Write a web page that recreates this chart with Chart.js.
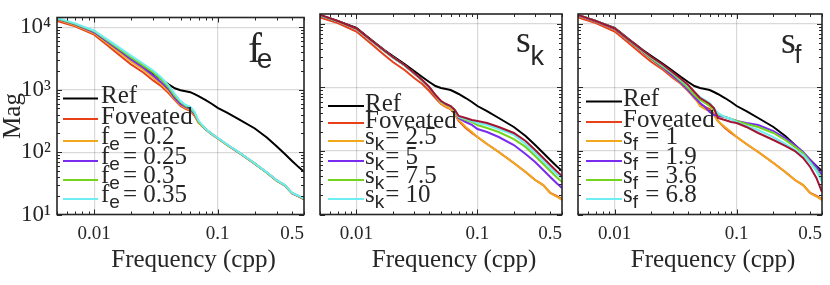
<!DOCTYPE html>
<html>
<head>
<meta charset="utf-8">
<script src="https://cdn.jsdelivr.net/npm/chart.js@4.4.1/dist/chart.umd.min.js"></script>
<style>
  html, body { margin: 0; padding: 0; background: #fff; }
  #wrap { position: relative; width: 830px; height: 285px; overflow: hidden; }
  #wrap canvas { position: absolute; top: 0; }
</style>
</head>
<body>
<div id="wrap">
  <canvas id="panelFe" width="312" height="285" style="left:0px"></canvas>
  <canvas id="panelSk" width="258" height="285" style="left:312px"></canvas>
  <canvas id="panelSf" width="260" height="285" style="left:570px"></canvas>
</div>
<script>
// frequency samples (cpp)
const freq = [0.005, 0.007, 0.01, 0.013, 0.017, 0.02, 0.025, 0.03, 0.035, 0.04, 0.045, 0.05, 0.055, 0.06, 0.065, 0.07, 0.08, 0.09, 0.1, 0.12, 0.15, 0.2, 0.25, 0.3, 0.35, 0.4, 0.45, 0.5];

// shared curves
const refMag = [13860, 11150, 8650, 5800, 3890, 3130, 2340, 1820, 1460, 1220, 1055, 982, 947, 913, 849, 790, 683, 591, 511, 426, 331, 239, 172, 124, 93, 72, 58, 48.4];
const foveatedMag = [12660, 10370, 7620, 5020, 3250, 2520, 1885, 1410, 1134, 881, 683, 550, 493, 458, 382, 297, 230, 192, 166, 129, 96.4, 64.7, 46.7, 34.9, 29.1, 21.8, 19.6, 17.5];

// panel 1: f_e
const feValues = ['0.2', '0.25', '0.3', '0.35'];
const fe02 = [13370, 10750, 8040, 5400, 3620, 2810, 2100, 1570, 1220, 947, 709, 570, 511, 475, 397, 297, 231, 193, 167, 129.5, 97, 65, 46.9, 35.1, 29.2, 21.9, 19.7, 17.6];
const fe025 = [13610, 11150, 8340, 5700, 3890, 3020, 2260, 1690, 1310, 1017, 734, 591, 530, 493, 411, 308, 232, 194, 168, 130, 97.5, 65.3, 47.1, 35.2, 29.3, 22, 19.8, 17.7];
const fe03 = [13860, 11350, 8650, 6020, 4110, 3250, 2430, 1885, 1462, 1094, 790, 635, 550, 511, 426, 308, 232, 194, 168, 130, 97.6, 65.4, 47.2, 35.3, 29.4, 22.1, 19.9, 17.8];
const fe035 = [14110, 11560, 8810, 6240, 4340, 3490, 2610, 2030, 1572, 1176, 849, 659, 570, 530, 442, 319, 234, 195, 169, 131, 98, 65.6, 47.4, 35.5, 29.6, 22.2, 20, 17.9];

// panel 2: s_k
const skValues = ['2.5', '5', '7.5', '10'];
const sk25 = [13650, 10980, 8370, 5610, 3770, 2975, 2225, 1665, 1290, 1000, 750, 560, 500, 465, 390, 308, 239, 199, 166, 129, 96.4, 64.7, 46.7, 34.9, 29.1, 21.8, 19.2, 16.9];
const sk5 = [13650, 10980, 8370, 5610, 3770, 2975, 2225, 1665, 1290, 1000, 750, 604, 542, 503, 435, 331, 286, 257, 222, 199, 166, 124, 89.7, 67.1, 50.2, 38.9, 31.3, 26.1];
const sk75 = [13650, 10980, 8370, 5610, 3770, 2975, 2225, 1665, 1290, 1000, 750, 604, 542, 503, 435, 343, 308, 286, 257, 230, 199, 154, 116, 83.4, 62.4, 48.4, 38.9, 32.5];
const sk10 = [13650, 10980, 8370, 5610, 3770, 2975, 2225, 1665, 1290, 1000, 750, 604, 542, 503, 435, 343, 319, 297, 276, 257, 222, 179, 129, 93, 69.6, 54, 43.4, 37.6];
const skExtra = [13860, 11150, 8495, 5698, 3824, 3020, 2260, 1691, 1311, 1017, 762, 613, 550, 511, 442, 356, 331, 308, 297, 276, 239, 192, 144, 104, 77.6, 60.2, 48.4, 40.4];

// panel 3: s_f
const sfValues = ['1', '1.9', '3.6', '6.8'];
const sf1 = [13400, 10800, 8200, 5400, 3560, 2760, 1990, 1490, 1155, 897, 696, 511, 458, 426, 369, 297, 239, 199, 166, 129, 96.4, 64.7, 46.7, 34.9, 29.1, 21.8, 19.2, 16.9];
const sf19 = [13610, 10950, 8341, 5495, 3621, 2809, 2027, 1516, 1176, 913, 709, 570, 493, 411, 369, 356, 343, 319, 297, 276, 257, 206, 160, 124, 96.4, 72.1, 56, 41.9];
const sf36 = [13860, 11150, 8495, 5596, 3688, 2860, 2102, 1630, 1242, 982, 762, 635, 570, 511, 442, 382, 343, 319, 297, 266, 239, 192, 149, 116, 93, 67.1, 50.2, 34.9];
const sf68 = [13860, 11150, 8495, 5698, 3755, 2966, 2179, 1691, 1311, 1055, 849, 709, 635, 570, 475, 397, 343, 319, 286, 247, 214, 166, 129, 104, 86.5, 64.7, 48.4, 32.5];
const sfExtra = [13860, 11150, 8495, 5698, 3824, 3020, 2260, 1722, 1360, 1094, 849, 683, 613, 550, 475, 331, 308, 286, 276, 239, 192, 149, 120, 100, 77.6, 56, 37.6, 22.6];

// axes
const xTicks = [0.005, 0.006, 0.007, 0.008, 0.009, 0.01, 0.02, 0.03, 0.04, 0.05, 0.06, 0.07, 0.08, 0.09, 0.1, 0.2, 0.3, 0.4, 0.5];
const xMajor = [0.01, 0.1];
const xLabelValues = [0.01, 0.1, 0.5];
const xLabels = ['0.01', '0.1', '0.5'];
const yTicks = [10, 20, 30, 40, 50, 60, 70, 80, 90, 100, 200, 300, 400, 500, 600, 700, 800, 900, 1000, 2000, 3000, 4000, 5000, 6000, 7000, 8000, 9000, 10000];
const yMajor = [10, 100, 1000, 10000];
const yLabels = ['10\u00b9', '10\u00b2', '10\u00b3', '10\u2074'];

const colors = {
    ref: '#000000',
    foveated: '#e8411a',
    orange: '#f2a81d',
    purple: '#7a2bf0',
    green: '#72d41c',
    cyan: '#6eeef2',
    darkred: '#a2142f'
};

const SERIF = '"Liberation Serif", "DejaVu Serif", serif';
const SANS = '"Liberation Sans", "DejaVu Sans", sans-serif';
const INK = '#262626';

const near = (a, b) => Math.abs(a - b) < 1e-9 * Math.max(1, Math.abs(b));
const inList = (list, v) => list.some(t => near(t, v));

function series(label, values, color) {
    return {
        label: label,
        data: freq.map((f, i) => ({x: f, y: values[i]})),
        borderColor: color,
        borderWidth: 2,
        pointRadius: 0,
        fill: false,
        tension: 0
    };
}

// inward ticks, box, legend, corner tag, x title
const decor = {
    id: 'decor',
    afterDatasetsDraw(chart, args, o) {
        const {ctx, chartArea: a, scales} = chart;
        ctx.save();
        ctx.strokeStyle = INK;
        ctx.lineWidth = 1;
        ctx.beginPath();
        xTicks.forEach(v => {
            const px = Math.round(scales.x.getPixelForValue(v)) + 0.5;
            const len = inList(xMajor, v) ? 5 : 3;
            ctx.moveTo(px, a.bottom); ctx.lineTo(px, a.bottom - len);
            ctx.moveTo(px, a.top); ctx.lineTo(px, a.top + len);
        });
        yTicks.forEach(v => {
            const py = Math.round(scales.y.getPixelForValue(v)) + 0.5;
            const len = inList(yMajor, v) ? 5 : 3;
            ctx.moveTo(a.left, py); ctx.lineTo(a.left + len, py);
            ctx.moveTo(a.right, py); ctx.lineTo(a.right - len, py);
        });
        ctx.stroke();
        ctx.lineWidth = 1.6;
        ctx.strokeRect(a.left, a.top, a.right - a.left, a.bottom - a.top);
        ctx.restore();
    },
    afterDraw(chart, args, o) {
        const {ctx, chartArea: a} = chart;
        ctx.save();
        ctx.textAlign = 'left';
        ctx.textBaseline = 'alphabetic';
        ctx.fillStyle = INK;

        // legend
        o.rows.forEach((row, i) => {
            const y = o.rowY[i];
            ctx.strokeStyle = row.color;
            ctx.lineWidth = 2;
            ctx.beginPath();
            ctx.moveTo(a.left + o.lineX[0], y);
            ctx.lineTo(a.left + o.lineX[1], y);
            ctx.stroke();
            let x = a.left + o.textX;
            const base = y + (row.sub ? 2.5 : 4.5);
            ctx.font = '25px ' + SERIF;
            ctx.fillText(row.main, x, base);
            if (row.sub) {
                x += ctx.measureText(row.main).width;
                ctx.font = '19px ' + SANS;
                ctx.fillText(row.sub, x, base + 6);
                x += ctx.measureText(row.sub).width + o.gap;
                ctx.font = '25px ' + SERIF;
                ctx.fillText(row.rest, x, base);
            }
        });

        // corner tag
        const t = o.tag;
        ctx.font = t.mainSize + 'px ' + SERIF;
        const tx = a.right - t.fromRight;
        ctx.fillText(t.main, tx, t.base);
        ctx.font = t.subSize + 'px ' + SANS;
        ctx.fillText(t.sub, tx + ctx.measureText(t.main).width + t.subGap, t.base + t.subDrop);

        // x axis title
        ctx.font = '25px ' + SERIF;
        ctx.textAlign = 'center';
        ctx.fillText('Frequency (cpp)', (a.left + a.right) / 2 + 13, 267);
        ctx.restore();
    }
};

function makePanel(id, datasets, decorOpts, showY, padLeft, padRight) {
    return new Chart(document.getElementById(id), {
        type: 'line',
        data: {datasets: datasets.map((d, i) => Object.assign(d, {order: -i}))},
        options: {
            responsive: false,
            animation: false,
            events: [],
            layout: {padding: {left: padLeft, right: padRight, top: 14, bottom: 0}},
            plugins: {
                legend: {display: false},
                tooltip: {enabled: false},
                decor: decorOpts
            },
            scales: {
                x: {
                    type: 'logarithmic',
                    min: 0.005,
                    max: 0.5,
                    afterBuildTicks: s => { s.ticks = xTicks.map(v => ({value: v})); },
                    afterFit: s => { s.height = 70.5; },
                    border: {display: false},
                    grid: {
                        drawTicks: false,
                        lineWidth: 1.2,
                        color: c => (c.tick && inList(xMajor, c.tick.value)) ? 'rgba(0,0,0,0.15)' : 'rgba(0,0,0,0)'
                    },
                    ticks: {
                        autoSkip: false,
                        maxRotation: 0,
                        align: 'inner',
                        padding: 8,
                        color: INK,
                        font: {family: SERIF, size: 19, lineHeight: 1.2},
                        callback: v => {
                            const k = xLabelValues.findIndex(t => near(t, v));
                            return k >= 0 ? xLabels[k] : '';
                        }
                    }
                },
                y: {
                    type: 'logarithmic',
                    min: 10,
                    max: 14370,
                    afterBuildTicks: s => { s.ticks = yTicks.map(v => ({value: v})); },
                    afterFit: s => { s.width = showY ? 57 : 0; },
                    border: {display: false},
                    grid: {
                        drawTicks: false,
                        lineWidth: 1.2,
                        color: c => (c.tick && inList(yMajor, c.tick.value) && c.tick.value > 10) ? 'rgba(0,0,0,0.15)' : 'rgba(0,0,0,0)'
                    },
                    title: {
                        display: showY,
                        text: 'Mag',
                        color: INK,
                        font: {family: SERIF, size: 25, lineHeight: 1.1},
                        padding: {top: 0, bottom: 0}
                    },
                    ticks: {
                        display: showY,
                        autoSkip: false,
                        padding: 6,
                        color: INK,
                        font: {family: SERIF, size: 23, lineHeight: 1.0},
                        callback: v => {
                            const k = yMajor.findIndex(t => near(t, v));
                            return k >= 0 ? yLabels[k] : '';
                        }
                    }
                }
            }
        },
        plugins: [decor]
    });
}

function legendRows(symbol, values) {
    const rows = [
        {main: 'Ref', color: colors.ref},
        {main: 'Foveated', color: colors.foveated}
    ];
    const c = [colors.orange, colors.purple, colors.green, colors.cyan];
    values.forEach((v, i) => rows.push({main: symbol[0], sub: symbol[1], rest: symbol[2] + v, color: c[i]}));
    return rows;
}

makePanel('panelFe', [
    series('Ref', refMag, colors.ref),
    series('Foveated', foveatedMag, colors.foveated),
    series('fe = 0.2', fe02, colors.orange),
    series('fe = 0.25', fe025, colors.purple),
    series('fe = 0.3', fe03, colors.green),
    series('fe = 0.35', fe035, colors.cyan)
], {
    rows: legendRows(['f', 'e', '= '], feValues),
    rowY: [98.5, 119, 141, 161, 180, 199],
    lineX: [6, 41],
    textX: 44,
    gap: 3,
    tag: {main: 'f', sub: 'e', mainSize: 42, subSize: 28, fromRight: 56, base: 62, subGap: 1, subDrop: 6}
}, true, 0, 2);

makePanel('panelSk', [
    series('Ref', refMag, colors.ref),
    series('Foveated', foveatedMag, colors.foveated),
    series('sk = 2.5', sk25, colors.orange),
    series('sk = 5', sk5, colors.purple),
    series('sk = 7.5', sk75, colors.green),
    series('sk = 10', sk10, colors.cyan),
    series('', skExtra, colors.darkred)
], {
    rows: legendRows(['s', 'k', '= '], skValues),
    rowY: [106, 123, 141, 161, 180, 199],
    lineX: [8, 44],
    textX: 45,
    gap: 1,
    tag: {main: 's', sub: 'k', mainSize: 38, subSize: 27, fromRight: 46, base: 52, subGap: 1, subDrop: 13}
}, false, 2, 2);

makePanel('panelSf', [
    series('Ref', refMag, colors.ref),
    series('Foveated', foveatedMag, colors.foveated),
    series('sf = 1', sf1, colors.orange),
    series('sf = 1.9', sf19, colors.purple),
    series('sf = 3.6', sf36, colors.green),
    series('sf = 6.8', sf68, colors.cyan),
    series('', sfExtra, colors.darkred)
], {
    rows: legendRows(['s', 'f', ' = '], sfValues),
    rowY: [101.5, 122, 141, 161, 180, 199],
    lineX: [8, 44],
    textX: 45,
    gap: 1,
    tag: {main: 's', sub: 'f', mainSize: 38, subSize: 25, fromRight: 41, base: 53, subGap: 1, subDrop: 10}
}, false, 4, 2);
</script>
</body>
</html>
